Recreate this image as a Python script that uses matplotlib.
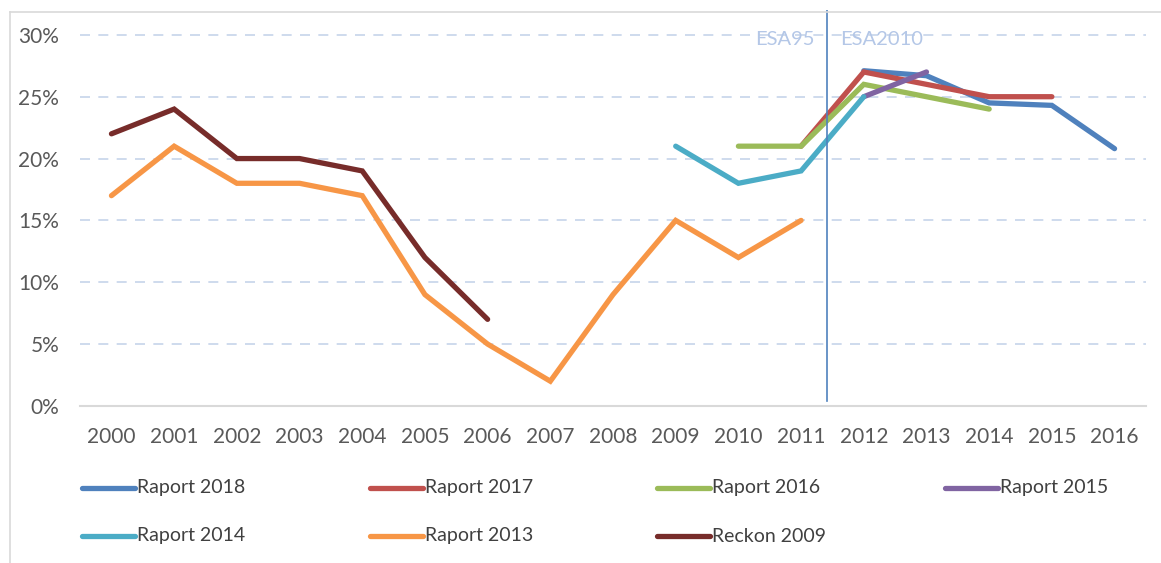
import numpy as np
import matplotlib
matplotlib.use("Agg")
import matplotlib.pyplot as plt
from matplotlib.lines import Line2D
from matplotlib.ticker import FuncFormatter

plt.rcParams['font.family'] = ['Lato', 'DejaVu Sans']

years = list(range(2000, 2017))

# series values in %
r2018_x = [2012, 2013, 2014, 2015, 2016]
r2018_y = [27.1, 26.7, 24.5, 24.3, 20.8]
r2017_x = [2011, 2012, 2013, 2014, 2015]
r2017_y = [21, 27, 26, 25, 25]
r2016_x = [2010, 2011, 2012, 2013, 2014]
r2016_y = [21, 21, 26, 25, 24]
r2015_x = [2012, 2013]
r2015_y = [25, 27]
r2014_x = [2009, 2010, 2011, 2012]
r2014_y = [21, 18, 19, 25]
r2013_x = list(range(2000, 2012))
r2013_y = [17, 21, 18, 18, 17, 9, 5, 2, 9, 15, 12, 15]
reckon_x = list(range(2000, 2007))
reckon_y = [22, 24, 20, 20, 19, 12, 7]

series = [
    ("Raport 2018", r2018_x, r2018_y, "#4f81bd"),
    ("Raport 2017", r2017_x, r2017_y, "#c0504d"),
    ("Raport 2016", r2016_x, r2016_y, "#9bbb59"),
    ("Raport 2015", r2015_x, r2015_y, "#8064a2"),
    ("Raport 2014", r2014_x, r2014_y, "#4bacc6"),
    ("Raport 2013", r2013_x, r2013_y, "#f79646"),
    ("Reckon 2009", reckon_x, reckon_y, "#772c2a"),
]

esa_break = 2011.42

W, H = 1161, 563
fig = plt.figure(figsize=(W / 100, H / 100), dpi=100)
ax = fig.add_axes([0.069, 0.279, 0.918, 0.703])

for label, xs, ys, col in series:
    ax.plot(xs, np.array(ys) / 100, color=col, lw=3.8, label=label,
            solid_capstyle='round', solid_joinstyle='miter')

ax.plot([esa_break, esa_break], [0.004, 0.32], color="#4f81bd", lw=1.2, zorder=10)
ax.text(esa_break - 0.2, 0.296, "ESA95", ha='right', va='center',
        color="#b4c7e7", fontsize=14.5)
ax.text(esa_break + 0.2, 0.296, "ESA2010", ha='left', va='center',
        color="#b4c7e7", fontsize=14.5)

ax.set_xlim(1999.5, 2016.5)
ax.set_ylim(0, 0.32)
ax.set_xticks(years)
ax.set_yticks(np.arange(0, 0.31, 0.05))
ax.yaxis.set_major_formatter(FuncFormatter(lambda v, p: f"{v*100:.0f}%"))
ax.tick_params(axis='both', length=0, labelsize=15, colors="#595959")
ax.tick_params(axis='y', pad=15)
ax.tick_params(axis='x', pad=15)
ax.grid(axis='y', color="#c6d4ea", lw=1.2, ls=(0, (6, 5)))
ax.set_axisbelow(True)
for s in ['top', 'right', 'left']:
    ax.spines[s].set_visible(False)
ax.spines['bottom'].set_color("#d9d9d9")
ax.spines['bottom'].set_linewidth(1.5)

# legend, laid out as a 4-column grid (row-major)
col_x = [82, 370, 657, 945]
row_y = [488, 536]
for i, (label, xs, ys, col) in enumerate(series):
    x0 = col_x[i % 4]
    y0 = row_y[i // 4]
    fy = 1 - y0 / H
    fig.add_artist(Line2D([x0 / W, (x0 + 53) / W], [fy, fy], transform=fig.transFigure,
                          color=col, lw=3.8, solid_capstyle='round'))
    fig.text((x0 + 55) / W, fy, label, ha='left', va='center',
             fontsize=14, color="#404040")

# chart border
fig.add_artist(Line2D([10 / W, 10 / W], [0, 1 - 12 / H],
                      transform=fig.transFigure, color="#d9d9d9", lw=1.2))
fig.add_artist(Line2D([10 / W, 1], [1 - 12 / H, 1 - 12 / H],
                      transform=fig.transFigure, color="#d9d9d9", lw=1.2))

fig.savefig("out.png", dpi=100)
